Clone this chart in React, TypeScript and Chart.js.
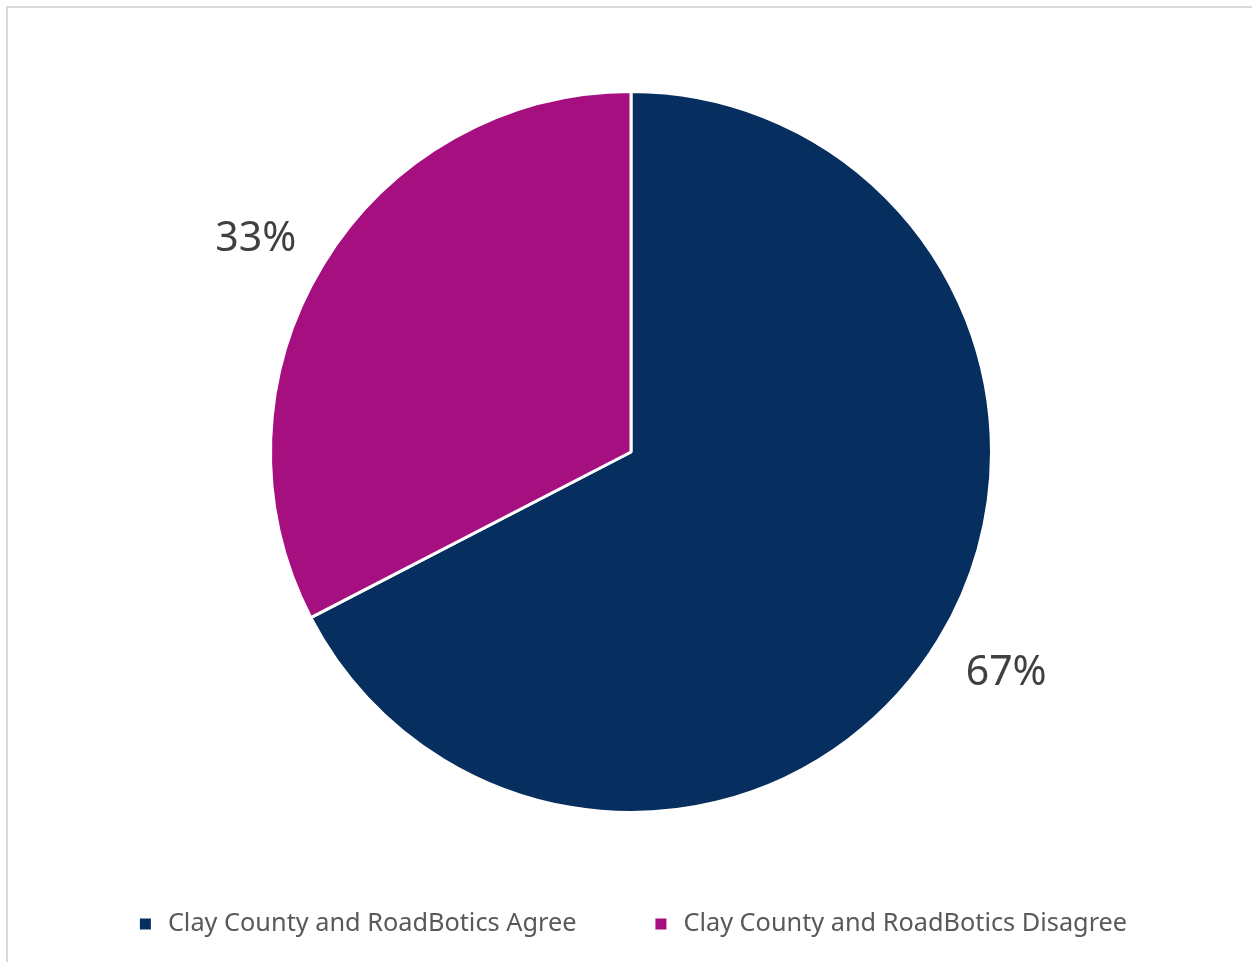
import React, { useEffect, useRef } from "react";
import { Chart, registerables } from "chart.js";

Chart.register(...registerables);

const categories = ["Clay County and RoadBotics Agree", "Clay County and RoadBotics Disagree"];
const shares = [67.4, 32.6];
const sliceColors = ["#062E5F", "#A50F80"];

const W = 1252;
const H = 962;

const pctLabelPlugin = {
  id: "pctLabels",
  afterDatasetsDraw(chart: any) {
    const meta = chart.getDatasetMeta(0);
    const data = chart.data.datasets[0].data as number[];
    const total = data.reduce((a, b) => a + b, 0);
    const ctx = chart.ctx;
    ctx.save();
    ctx.font = '41px "Noto Sans"';
    ctx.fillStyle = "#404040";
    ctx.textAlign = "center";
    ctx.textBaseline = "middle";
    meta.data.forEach((arc: any, i: number) => {
      const p = arc.getProps(["x", "y", "startAngle", "endAngle", "outerRadius"], true);
      const mid = (p.startAngle + p.endAngle) / 2 - 0.022;
      const r = p.outerRadius + 73;
      const x = p.x + Math.cos(mid) * r;
      const y = p.y + Math.sin(mid) * r + 4;
      ctx.fillText(Math.round((data[i] / total) * 100) + "%", x, y);
    });
    ctx.restore();
  },
};

const legendPlugin = {
  id: "customLegend",
  afterDraw(chart: any) {
    const ctx = chart.ctx;
    const labels = chart.data.labels as string[];
    const colors = chart.data.datasets[0].backgroundColor as string[];
    ctx.save();
    ctx.font = '25.3px "Noto Sans"';
    const box = 11;
    const gapBoxText = 17;
    const gapItems = 79;
    const widths = labels.map((l) => ctx.measureText(l).width);
    let total = 0;
    widths.forEach((w, i) => {
      total += box + gapBoxText + w + (i < widths.length - 1 ? gapItems : 0);
    });
    let x = 633.5 - total / 2;
    const cy = 924;
    labels.forEach((l, i) => {
      ctx.fillStyle = colors[i];
      ctx.fillRect(x, cy - box / 2, box, box);
      x += box + gapBoxText;
      ctx.fillStyle = "#595959";
      ctx.textAlign = "left";
      ctx.textBaseline = "middle";
      ctx.fillText(l, x, cy);
      x += widths[i] + gapItems;
    });
    ctx.restore();
  },
};

export default function App() {
  const ref = useRef<HTMLCanvasElement>(null);
  useEffect(() => {
    if (!ref.current) return;
    const chart = new Chart(ref.current, {
      type: "pie",
      data: {
        labels: categories,
        datasets: [
          {
            data: shares,
            backgroundColor: sliceColors,
            borderColor: "#ffffff",
            borderWidth: 3,
          },
        ],
      },
      options: {
        responsive: false,
        animation: false,
        devicePixelRatio: 1,
        layout: { padding: { top: 90, bottom: 148, left: 10, right: 0 } },
        plugins: {
          legend: { display: false },
          tooltip: { enabled: false },
        },
      },
      plugins: [pctLabelPlugin, legendPlugin],
    });
    return () => chart.destroy();
  }, []);
  return (
    <div
      style={{
        position: "fixed",
        left: 0,
        top: 0,
        width: W,
        height: H,
        overflow: "hidden",
        background: "#fff",
      }}
    >
      <div
        style={{
          position: "absolute",
          left: 6,
          top: 6,
          width: W + 20,
          height: H + 20,
          borderLeft: "2px solid #d9d9d9",
          borderTop: "2px solid #d9d9d9",
        }}
      />
      <canvas
        ref={ref}
        width={W}
        height={H}
        style={{ position: "absolute", left: 0, top: 0, width: W, height: H }}
      />
    </div>
  );
}
